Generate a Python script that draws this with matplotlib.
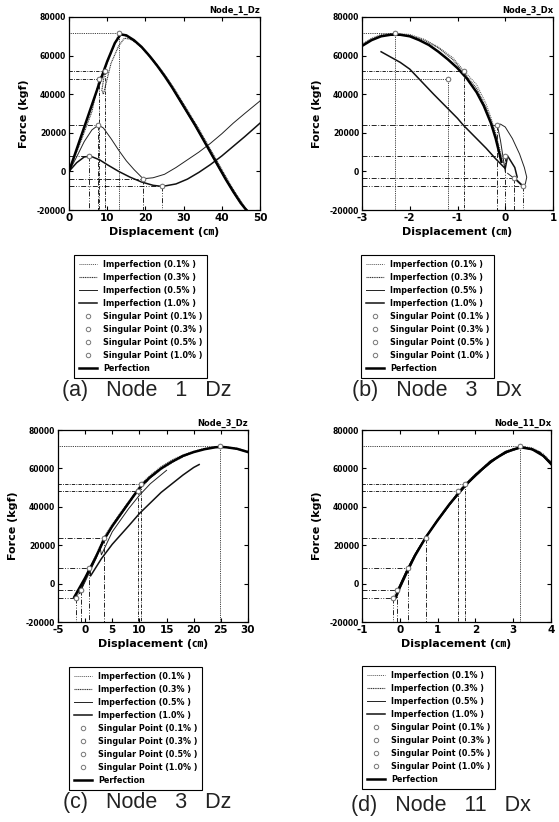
import matplotlib
matplotlib.use("Agg")
import matplotlib.pyplot as plt

# ---------------- data ----------------
levels = ["0.1%", "0.3%", "0.5%", "1.0%"]

# Panel (a) Node 1 Dz
a_perf_x = [0, 2, 4, 6, 8, 10, 12, 13.5, 15, 17, 19, 21, 23, 25, 27, 29, 31, 33, 35, 37, 39, 41, 43, 45, 47]
a_perf_y = [0, 11500, 23000, 34500, 46000, 57000, 66500, 71000, 70500, 68000, 64500, 60000, 55000, 49500, 43500,
            37000, 30500, 24000, 17000, 10000, 3000, -4000, -10500, -16500, -21500]
a_i01_x = [0, 2, 4, 6, 8, 10, 12, 13, 15, 17, 19, 21, 23, 25, 27, 29, 31, 33, 35, 37, 39, 41, 43, 45, 47.5]
a_i01_y = [0, 11000, 22500, 34000, 45000, 56000, 66000, 71500, 70000, 67500, 64000, 59500, 54500, 49000, 43000,
           36500, 30000, 23500, 16500, 9500, 2500, -4500, -11000, -17000, -21000]
a_i03_x = [0, 3, 6, 7.9, 9.4, 8.6, 9.0, 11, 13, 14.5, 16, 18, 20, 22, 24, 26, 28, 30, 32, 34, 36, 38, 40, 42, 44, 46, 48]
a_i03_y = [0, 15000, 31000, 48000, 52000, 42000, 40000, 56000, 65000, 69000, 68500, 66000, 62500, 58000, 53000,
           47500, 41500, 35000, 28500, 22000, 15000, 8000, 1000, -6000, -12500, -18500, -23500]
a_i05_x = [0, 2, 4, 6, 7.7, 9, 11, 13, 15, 17, 19.4, 22, 25, 28, 31, 34, 37, 40, 43, 46, 50]
a_i05_y = [0, 7500, 15500, 21500, 24000, 22500, 17000, 11000, 5500, 1000, -3800, -3300, -1500, 2000, 6000, 10000,
           14500, 19500, 25000, 30000, 36500]
a_i10_x = [0, 2, 4, 5.2, 6, 8, 10, 13, 16, 19, 22, 24.4, 28, 31, 34, 37, 40, 43, 46, 50]
a_i10_y = [0, 4500, 7500, 7800, 7600, 6000, 3500, 0, -3000, -5500, -7200, -7800, -6500, -4000, -500, 3500, 8000,
           13000, 18000, 25000]
a_sing = {"0.1%": ([13.1], [71500]), "0.3%": ([9.4, 7.9], [52000, 48000]),
          "0.5%": ([7.7, 19.4], [24000, -3800]), "1.0%": ([5.2, 24.4], [7800, -7800])}

# Panel (b) Node 3 Dx
b_perf_x = [-3, -2.8, -2.6, -2.4, -2.2, -2.0, -1.8, -1.6, -1.4, -1.2, -1.0, -0.8, -0.6, -0.45, -0.3, -0.2, -0.12, -0.08]
b_perf_y = [65000, 68000, 70000, 70800, 70800, 70000, 68000, 65500, 62000, 58000, 53500, 48000, 41000, 34000, 25000,
            17000, 9000, 5000]
b_i01_x = [-3, -2.8, -2.6, -2.3, -2.0, -1.7, -1.4, -1.1, -0.86, -0.6, -0.4, -0.3, -0.2, -0.1, 0.0]
b_i01_y = [66000, 69000, 71000, 71500, 71000, 68500, 64500, 59000, 52000, 45000, 35000, 28000, 20000, 10000, 2000]
b_i03_x = [-3, -2.8, -2.6, -2.3, -2.0, -1.7, -1.4, -1.1, -0.86, -0.6, -0.4, -0.25, -0.15, -0.1]
b_i03_y = [65500, 68500, 70500, 71200, 70500, 68000, 64000, 58000, 51000, 43000, 33000, 23000, 14000, 6000]
b_i05_x = [0.0, -0.05, -0.1, -0.15, -0.17, -0.1, 0.0, 0.15, 0.3, 0.4, 0.45, 0.42, 0.35, 0.18, 0.05]
b_i05_y = [0, 8000, 16000, 22000, 24000, 24500, 23000, 17000, 9000, 2000, -3000, -6500, -7500, -3500, -1000]
b_i10_x = [-2.6, -2.2, -2.0, -1.5, -1.0, -0.88, -0.6, -0.4, -0.2, 0.0, 0.05, 0.2, 0.25, 0.2, 0.37]
b_i10_y = [62000, 56500, 53000, 40000, 27500, 24000, 17000, 12000, 6500, 1500, 8000, 2000, -3000, -3500, -7500]
b_sing = {"0.1%": ([-2.3, -1.2], [71500, 48000]), "0.3%": ([-0.86], [52000]),
          "0.5%": ([-0.17, 0.18], [24000, -3500]), "1.0%": ([0.0, 0.37], [8000, -7500])}

# Panel (c) Node 3 Dz
c_perf_x = [-2, -1, 0, 1, 2, 3.5, 5, 7, 9, 10.5, 12, 14, 16, 18, 20, 22, 24, 25, 26, 28, 30]
c_perf_y = [-7000, -2000, 3000, 8500, 14000, 23000, 30000, 38000, 46000, 51500, 55500, 60000, 63500, 66500, 68500,
            70000, 71000, 71200, 71000, 70200, 68500]
c_i01_x = [-1.6, -0.5, 0.8, 2, 3.4, 5, 7, 9, 10.3, 12, 14, 16, 18, 20, 22, 24, 24.8, 26, 28, 30]
c_i01_y = [-7500, -1000, 8000, 15000, 24000, 31000, 39000, 46500, 52000, 56500, 61000, 64500, 67000, 69000, 70500,
           71300, 71500, 71200, 70500, 69000]
c_i03_x = [-1.6, 0, 2, 3.4, 5, 7, 9.7, 12, 14, 16, 18, 20, 22, 24, 26, 28, 30]
c_i03_y = [-6500, 2500, 13500, 22000, 29500, 37500, 48000, 55000, 59500, 63000, 66000, 68500, 70000, 71000, 71000,
           70000, 68500]
c_i05_x = [-0.8, 0, 1, 2, 3.4, 2.8, 3.0, 5, 8, 10, 12, 15]
c_i05_y = [-3500, 1000, 7000, 13000, 24000, 18000, 15000, 27000, 39000, 46000, 52000, 59000]
c_i10_x = [-1.0, 0.8, 1, 3, 5, 8, 10, 12, 14, 16, 18, 20, 21]
c_i10_y = [-5000, 8000, 4000, 13000, 20500, 30000, 36500, 42000, 47500, 52000, 56500, 60500, 62000]
c_sing = {"0.1%": ([24.8], [71500]), "0.3%": ([10.3, 9.7], [52000, 48000]),
          "0.5%": ([3.4, -0.8], [24000, -3500]), "1.0%": ([0.8, -1.6], [8000, -7500])}

# Panel (d) Node 11 Dx
d_perf_x = [-0.1, 0.0, 0.2, 0.4, 0.7, 1.0, 1.3, 1.7, 2.0, 2.4, 2.8, 3.2, 3.5, 3.8, 4.0]
d_perf_y = [-7000, -2000, 6500, 14500, 24500, 33000, 41000, 50500, 56500, 63500, 68500, 71000, 70000, 66500, 62500]
d_i01_x = [-0.18, 0.0, 0.21, 0.4, 0.68, 1.0, 1.3, 1.72, 2.0, 2.4, 2.8, 3.19, 3.5, 3.8, 4.0]
d_i01_y = [-7500, -1000, 8000, 15500, 24000, 33500, 41500, 52000, 57000, 64000, 69000, 71500, 70800, 67500, 63500]
d_i03_x = [-0.1, 0.0, 0.2, 0.4, 0.68, 1.0, 1.3, 1.55, 2.0, 2.4, 2.8, 3.2, 3.5, 3.8, 4.0]
d_i03_y = [-6500, -2500, 6000, 14000, 24000, 32500, 40500, 48000, 56000, 63000, 68000, 70800, 70000, 66800, 63000]
d_i05_x = [-0.07, 0.1, 0.3, 0.5, 0.68, 1.0, 1.4, 1.8, 2.2, 2.6, 3.0, 3.2, 3.6, 4.0]
d_i05_y = [-3500, 3500, 11500, 18500, 24000, 33000, 43000, 52000, 59500, 66000, 70000, 71000, 69500, 63000]
d_i10_x = [-0.1, 0.05, 0.21, 0.45, 0.7, 1.0, 1.4, 1.8, 2.2, 2.6, 3.0, 3.3, 3.7, 4.0]
d_i10_y = [-6000, 1000, 8000, 16500, 24500, 33000, 43500, 52500, 60000, 66000, 70000, 71000, 68500, 62000]
d_sing = {"0.1%": ([3.19], [71500]), "0.3%": ([1.72, 1.55], [52000, 48000]),
          "0.5%": ([0.68, -0.07], [24000, -3500]), "1.0%": ([0.21, -0.18], [8000, -7500])}

panels = [
    ("Node_1_Dz", "(a)   Node   1   Dz", (0, 50), [0, 10, 20, 30, 40, 50],
     (a_perf_x, a_perf_y), [(a_i01_x, a_i01_y), (a_i03_x, a_i03_y), (a_i05_x, a_i05_y), (a_i10_x, a_i10_y)], a_sing),
    ("Node_3_Dx", "(b)   Node   3   Dx", (-3, 1), [-3, -2, -1, 0, 1],
     (b_perf_x, b_perf_y), [(b_i01_x, b_i01_y), (b_i03_x, b_i03_y), (b_i05_x, b_i05_y), (b_i10_x, b_i10_y)], b_sing),
    ("Node_3_Dz", "(c)   Node   3   Dz", (-5, 30), [-5, 0, 5, 10, 15, 20, 25, 30],
     (c_perf_x, c_perf_y), [(c_i01_x, c_i01_y), (c_i03_x, c_i03_y), (c_i05_x, c_i05_y), (c_i10_x, c_i10_y)], c_sing),
    ("Node_11_Dx", "(d)   Node   11   Dx", (-1, 4), [-1, 0, 1, 2, 3, 4],
     (d_perf_x, d_perf_y), [(d_i01_x, d_i01_y), (d_i03_x, d_i03_y), (d_i05_x, d_i05_y), (d_i10_x, d_i10_y)], d_sing),
]
y_ticks = [-20000, 0, 20000, 40000, 60000, 80000]

# ---------------- layout ----------------
W, H = 559, 822
fig = plt.figure(figsize=(W / 100, H / 100), dpi=100)
axes_px = [(69, 17, 191, 193), (362, 17, 191, 193), (58, 430, 190, 192), (362, 430, 189, 192)]
legend_px = [(70, 251), (357, 251), (65, 663), (358, 662)]
caption_px = [(147, 390), (437, 390), (147, 802), (441, 805)]

lev_styles = [dict(ls=(0, (1, 1)), lw=0.7, color="#555555"),
              dict(ls=(0, (1, 0.6)), lw=0.8, color="#333333"),
              dict(ls="-", lw=0.7, color="#222222"),
              dict(ls="-", lw=1.1, color="#111111")]
guide_styles = [(0, (1, 1.2)), (0, (4, 1.5, 1, 1.5)), (0, (6, 2, 1, 2)), (0, (6, 2, 1, 2, 1, 2))]

cm_fam = ["DejaVu Sans", "Noto Sans CJK KR"]

for k, (title, caption, xlim, xticks, perf, imps, sing) in enumerate(panels):
    l, t, w, h = axes_px[k]
    ax = fig.add_axes([l / W, 1 - (t + h) / H, w / W, h / H])
    ax.set_xlim(*xlim)
    ax.set_ylim(-20000, 80000)
    x0 = xlim[0]
    # guide lines from singular points
    for i, lev in enumerate(levels):
        sx, sy = sing[lev]
        for px, py in zip(sx, sy):
            ax.plot([x0, px], [py, py], color="black", lw=0.6, ls=guide_styles[i])
            ax.plot([px, px], [py, -20000], color="black", lw=0.6, ls=guide_styles[i])
    handles = []
    for i, lev in enumerate(levels):
        ix, iy = imps[i]
        hl, = ax.plot(ix, iy, label=f"Imperfection ({lev} )", **lev_styles[i])
        handles.append(hl)
    for i, lev in enumerate(levels):
        sx, sy = sing[lev]
        hm, = ax.plot(sx, sy, ls="none", marker="o", ms=3.2, mfc="white", mec="#777777", mew=0.7,
                      label=f"Singular Point ({lev} )")
        handles.append(hm)
    hp, = ax.plot(perf[0], perf[1], color="black", lw=1.8, label="Perfection")
    handles.append(hp)
    for lev in levels:
        sx, sy = sing[lev]
        ax.plot(sx, sy, ls="none", marker="o", ms=3.2, mfc="white", mec="#777777", mew=0.7, zorder=5)

    ax.set_xticks(xticks)
    ax.set_yticks(y_ticks)
    ax.set_yticklabels([str(v) for v in y_ticks], fontsize=5.5, fontweight="bold")
    ax.set_xticklabels([str(v) for v in xticks], fontsize=7.5, fontweight="bold")
    ax.tick_params(direction="in", top=True, right=True, length=3, width=0.8, pad=2)
    for s in ax.spines.values():
        s.set_linewidth(0.9)
    ax.set_ylabel("Force (kgf)", fontsize=8, fontweight="bold", labelpad=6)
    ax.set_xlabel("Displacement (\u339d)", fontsize=8, fontweight="bold", family=cm_fam, labelpad=3)
    ax.text(1.0, 1.01, title, transform=ax.transAxes, ha="right", va="bottom", fontsize=6, fontweight="bold")

    lx, ly = legend_px[k]
    leg = ax.legend(handles=handles, loc="upper left", bbox_to_anchor=(lx / W, 1 - ly / H),
                    bbox_transform=fig.transFigure, prop=dict(size=5.8, weight="bold"),
                    frameon=True, fancybox=False, edgecolor="black", framealpha=1,
                    handlelength=2.2, labelspacing=0.5, borderpad=0.6, handletextpad=0.8)
    leg.get_frame().set_linewidth(0.8)

    cx, cy = caption_px[k]
    fig.text(cx / W, 1 - cy / H, caption, ha="center", va="center", fontsize=15.5,
             family="Liberation Sans", color="#222222")

fig.savefig("out.png", dpi=100)
